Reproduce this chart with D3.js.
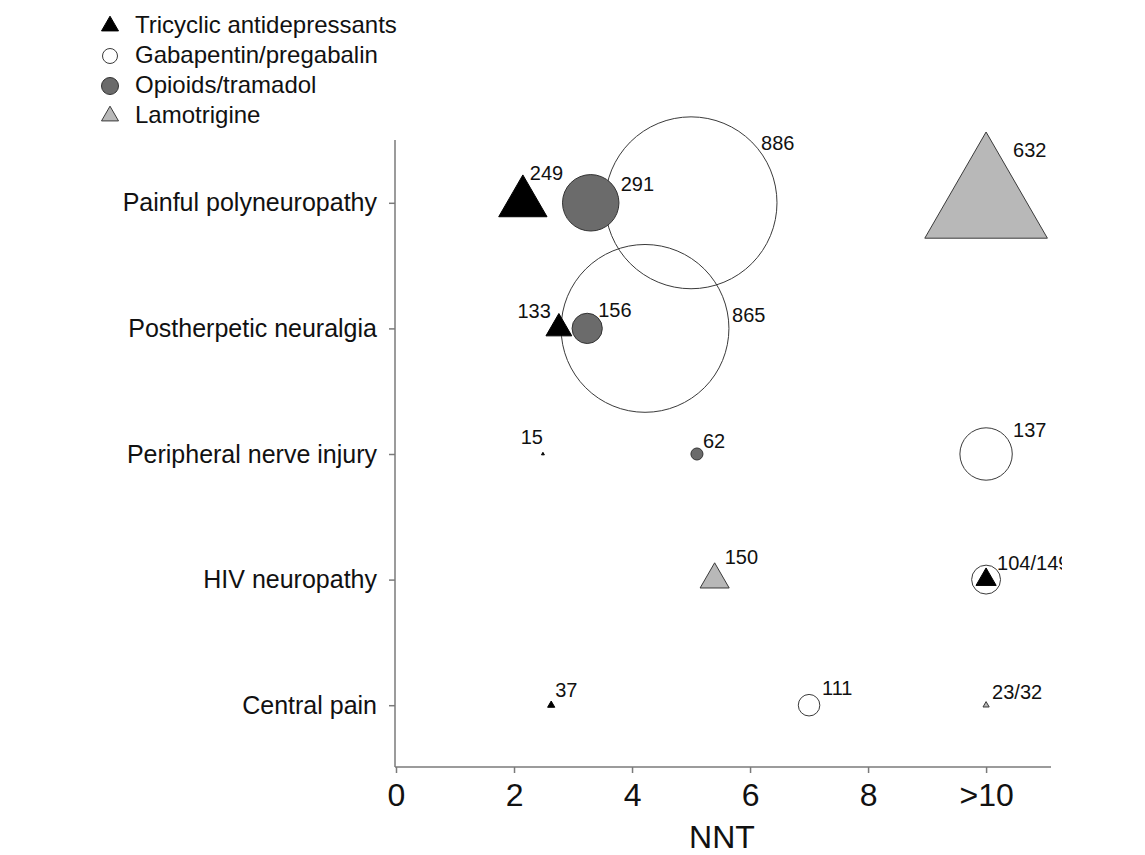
<!DOCTYPE html>
<html>
<head>
<meta charset="utf-8">
<script src="https://cdn.jsdelivr.net/npm/d3@7"></script>
<style>
  body { margin: 0; background: #fff; }
  text { font-family: "Liberation Sans", Arial, sans-serif; fill: #111; }
</style>
</head>
<body>
<div id="grafica"></div>
<script>
// data
var categories = ["Painful polyneuropathy", "Postherpetic neuralgia", "Peripheral nerve injury", "HIV neuropathy", "Central pain"];
var drugClasses = ["Tricyclic antidepressants", "Gabapentin/pregabalin", "Opioids/tramadol", "Lamotrigine"];
var xTicks = [0, 2, 4, 6, 8, 10];
var xTickLabels = ["0", "2", "4", "6", "8", ">10"];

var pointCategory = [0, 0, 0, 0, 1, 1, 1, 2, 2, 2, 3, 3, 3, 4, 4, 4];
var pointClass    = [1, 0, 2, 3, 1, 0, 2, 0, 2, 1, 3, 1, 0, 0, 1, 3];
var pointNNT      = [5.0, 2.15, 3.3, 10, 4.22, 2.76, 3.24, 2.49, 5.1, 10, 5.4, 10, 10, 2.63, 7.0, 10];
var pointSize     = [886, 249, 291, 632, 865, 133, 156, 15, 62, 270, 150, 149, 104, 37, 111, 32];
var pointLabel    = ["886", "249", "291", "632", "865", "133", "156", "15", "62", "137", "150", "104/149", "", "37", "111", "23/32"];

// label placement next to each mark: [dx, dy, anchor]
var labelOffset = [[70, -53, "start"], [7, -23, "start"], [30, -12, "start"], [27, -46, "start"],
  [87, -6, "start"], [-8, -10, "end"], [11, -11, "start"], [0, -10, "end"], [6, -6, "start"],
  [27, -17, "start"], [10, -16, "start"], [11, -10, "start"], [0, 0, "start"], [4, -8, "start"],
  [13, -10, "start"], [6, -6, "start"]];

var classFill   = ["#000000", "none", "#6b6b6b", "#b8b8b8"];
var classStroke = ["#000000", "#3a3a3a", "#333333", "#3a3a3a"];
var classShape  = [d3.symbolTriangle, d3.symbolCircle, d3.symbolCircle, d3.symbolTriangle];

var W = 1145, H = 855;

var svg = d3.select("#grafica")
  .append("svg")
    .attr("width", W)
    .attr("height", H);

// the original figure is cut on its right side
svg.append("defs").append("clipPath")
    .attr("id", "clip")
  .append("rect")
    .attr("x", 0).attr("y", 0)
    .attr("width", 1062).attr("height", H);

var g = svg.append("g").attr("clip-path", "url(#clip)");

var x = d3.scaleLinear()
  .domain([0, 11.1])
  .range([396, 1051]);

var y = d3.scalePoint()
  .domain(categories)
  .range([140, 768])
  .padding(0.5);

// mark width (triangle side / circle diameter) grows linearly with n
var w = d3.scaleLinear()
  .domain([0, 1000])
  .range([0, 194]);

function symbolArea(shape, width) {
  if (shape === d3.symbolCircle) return Math.PI * width * width / 4;
  return width * width * Math.sqrt(3) / 4;
}

// X axis
var xAxis = g.append("g")
  .attr("transform", "translate(0," + 767 + ")")
  .call(d3.axisBottom(x)
    .tickValues(xTicks)
    .tickSize(6)
    .tickPadding(10)
    .tickSizeOuter(0)
    .tickFormat(function(d, i) { return xTickLabels[i]; }));

xAxis.select(".domain").attr("d", "M395,0H1051");

// Y axis
var yAxis = g.append("g")
  .attr("transform", "translate(395,0)")
  .call(d3.axisLeft(y)
    .tickSize(6)
    .tickPadding(12)
    .tickSizeOuter(0));

yAxis.select(".domain").attr("d", "M0,140V767");

g.selectAll(".domain, .tick line")
  .attr("stroke", "#7a7a7a")
  .attr("stroke-width", 1.5);

xAxis.selectAll(".tick text")
  .style("font-size", "32px")
  .attr("fill", "#111");

yAxis.selectAll(".tick text")
  .style("font-size", "25px")
  .attr("fill", "#111");

g.append("text")
  .attr("x", 722)
  .attr("y", 848)
  .attr("text-anchor", "middle")
  .style("font-size", "32px")
  .text("NNT");

// points: gabapentin first (transparent), then the others on top
var idx = d3.range(pointNNT.length);
var drawOrder = [1, 3, 2, 0];
idx.sort(function(a, b) { return drawOrder.indexOf(pointClass[a]) - drawOrder.indexOf(pointClass[b]); });

g.selectAll("path.mark")
  .data(idx)
  .enter().append("path")
    .attr("class", "mark")
    .attr("transform", function(i) { return "translate(" + x(pointNNT[i]) + "," + y(categories[pointCategory[i]]) + ")"; })
    .attr("d", function(i) {
      var s = classShape[pointClass[i]];
      return d3.symbol().type(s).size(symbolArea(s, w(pointSize[i])))();
    })
    .attr("fill", function(i) { return classFill[pointClass[i]]; })
    .attr("stroke", function(i) { return classStroke[pointClass[i]]; })
    .attr("stroke-width", 1);

g.selectAll("text.val")
  .data(idx.filter(function(i) { return pointLabel[i] !== ""; }))
  .enter().append("text")
    .attr("class", "val")
    .attr("x", function(i) { return x(pointNNT[i]) + labelOffset[i][0]; })
    .attr("y", function(i) { return y(categories[pointCategory[i]]) + labelOffset[i][1]; })
    .attr("text-anchor", function(i) { return labelOffset[i][2]; })
    .style("font-size", "20px")
    .text(function(i) { return pointLabel[i]; });

// Leyenda
var legend = svg.append("g");
drugClasses.forEach(function(name, k) {
  var s = classShape[k];
  legend.append("path")
    .attr("transform", "translate(110," + (26 + k * 30) + ")")
    .attr("d", d3.symbol().type(s).size(symbolArea(s, k === 1 ? 15 : 17))())
    .attr("fill", k === 1 ? "#fff" : classFill[k])
    .attr("stroke", classStroke[k])
    .attr("stroke-width", 1);
  legend.append("text")
    .attr("x", 135)
    .attr("y", 33 + k * 30)
    .style("font-size", "24px")
    .text(name);
});
</script>
</body>
</html>
